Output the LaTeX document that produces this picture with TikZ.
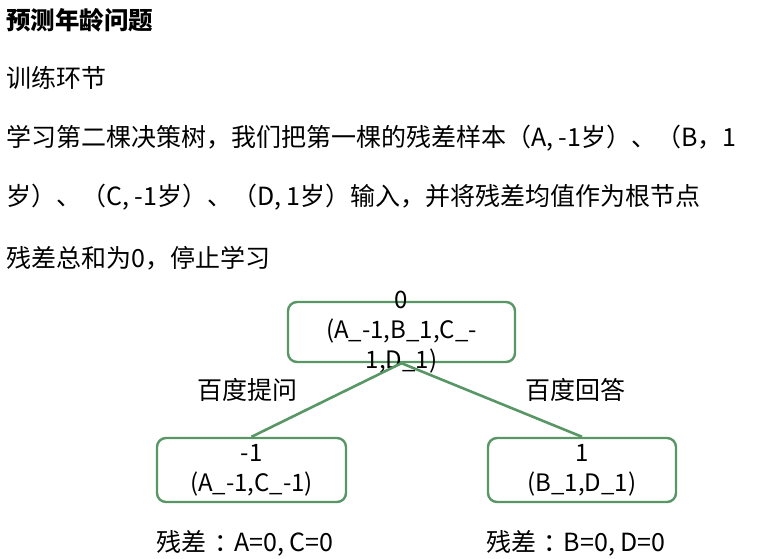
\documentclass[tikz,border=0pt]{standalone}
\usepackage{fontspec}
\setmainfont{Noto Sans CJK SC}
\definecolor{treegreen}{RGB}{88,150,102}
\begin{document}
\begin{tikzpicture}[x=1pt,y=-1pt,
  para/.style={anchor=west,inner sep=0pt,font=\fontsize{25}{30}\selectfont},
  box/.style={draw=treegreen,line width=2.4pt,rounded corners=9pt,inner sep=0pt},
  boxtext/.style={align=center,inner sep=0pt,font=\fontsize{24}{30}\selectfont},
  edge/.style={draw=treegreen,line width=2.6pt},
  lbl/.style={inner sep=0pt,font=\fontsize{25}{30}\selectfont}]
\useasboundingbox (0,0) rectangle (777,558);
\node[para,font=\fontsize{24.5}{30}\selectfont\bfseries] (title) at (6,20) {预测年龄问题};
\node[para] (l1) at (6,78) {训练环节};
\node[para] (l2) at (6,138) {学习第二棵决策树，我们把第一棵的残差样本（A, -1岁）、（B，1};
\node[para] (l3) at (6,197) {岁）、（C, -1岁）、（D, 1岁）输入，并将残差均值作为根节点};
\node[para] (l4) at (6,258) {残差总和为0，停止学习};
\node[box,minimum width=227pt,minimum height=60pt] (root) at (401.5,332) {};
\node[boxtext] (roott) at (root.center) {0\\(A\_-1,B\_1,C\_-\\1,D\_1)};
\node[box,minimum width=189pt,minimum height=64pt] (left) at (251.5,470) {};
\node[boxtext] (leftt) at (left.center) {-1\\(A\_-1,C\_-1)};
\node[box,minimum width=188pt,minimum height=64pt] (right) at (582,470) {};
\node[boxtext] (rightt) at (right.center) {1\\(B\_1,D\_1)};
\draw[edge] (root.south) -- (left.north);
\draw[edge] (root.south) -- (right.north);
\node[lbl] (q) at (247,390) {百度提问};
\node[lbl] (a) at (575,390) {百度回答};
\node[lbl] (rl) at (245,543) {残差\hspace{0.3em}：\hspace{-0.2em}A=0, C=0};
\node[lbl] (rr) at (576,543) {残差\hspace{0.3em}：\hspace{-0.2em}B=0, D=0};
\end{tikzpicture}
\end{document}
